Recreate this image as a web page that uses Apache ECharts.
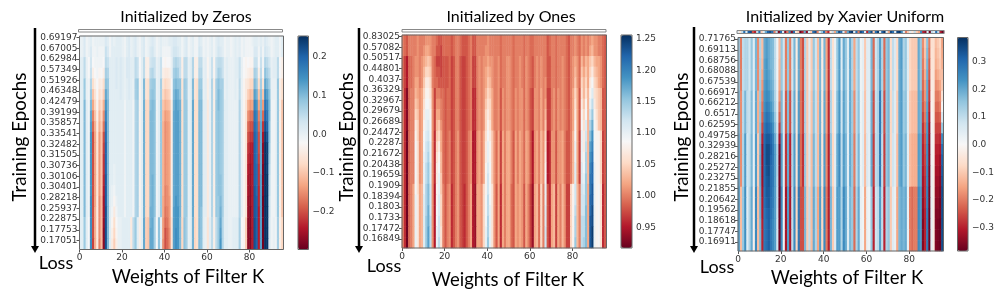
<!DOCTYPE html>
<html><head><meta charset="utf-8">
<style>html,body{margin:0;padding:0;background:#fff}#c{width:997px;height:304px}</style>
<script src="https://cdn.jsdelivr.net/npm/echarts@6/dist/echarts.min.js"></script>
</head><body><div id="c"></div>
<script>
// ---------- tick labels ----------
const zerosLoss=['0.69197','0.67005','0.62984','0.57349','0.51926','0.46348','0.42479','0.39199','0.35857','0.33541','0.32482','0.31505','0.30736','0.30106','0.30401','0.28218','0.25937','0.22875','0.17753','0.17051'];
const onesLoss=['0.83025','0.57082','0.50517','0.44801','0.4037','0.36329','0.32967','0.29679','0.26689','0.24472','0.2287','0.21672','0.20438','0.19659','0.1909','0.18394','0.1803','0.1733','0.17472','0.16849'];
const xavierLoss=['0.71765','0.69113','0.68756','0.68088','0.67539','0.66917','0.66212','0.6517','0.62595','0.49758','0.32939','0.28216','0.25272','0.23275','0.21855','0.20642','0.19562','0.18618','0.17747','0.16911'];
const weightTicks=[0,20,40,60,80];
const zerosBarTicks=[-0.2,-0.1,0,0.1,0.2];
const onesBarTicks=[0.95,1,1.05,1.1,1.15,1.2,1.25];
const xavierBarTicks=[-0.3,-0.2,-0.1,0,0.1,0.2,0.3];
// ---------- weight profiles (96 weights each), read row band by row band ----------
const z0=[0,0,.02,-.01,0,.01,-.02,0,.01,0,
-.01,.01,.02,.01,-.01,.01,-.01,0,.01,.01,
0,-.01,.01,.02,0,.01,.02,0,-.01,.01,
.02,-.01,0,.01,.02,.01,-.01,0,.01,-.01,
-.01,-.01,0,.01,.02,.02,.01,.01,-.01,.01,
.02,-.01,0,.01,-.01,-.01,.02,.01,-.01,0,
-.01,0,.01,-.01,.01,.02,.01,.01,-.01,0,
0,-.01,0,.01,0,.01,-.01,0,-.01,0,
-.01,-.01,.02,.01,-.01,.01,-.01,.01,.01,0,
-.01,0,.01,.01,-.01,.01];
const z1=[.01,.01,.05,0,-.02,.05,-.04,-.03,-.03,-.04,
-.03,-.03,.05,.04,.01,.01,.02,.02,.01,.02,
.01,0,.02,.02,.01,.01,.05,.04,-.02,.01,
.05,-.04,-.04,.05,.05,.04,0,.01,.04,-.04,
-.04,-.04,-.03,0,.05,.06,.05,.04,-.04,.05,
.05,0,.01,.06,-.04,-.04,.05,.05,0,.01,
-.03,0,.04,-.03,.04,.06,.05,.04,0,.01,
0,0,0,.01,.01,.04,0,-.02,-.03,-.05,
-.05,-.05,.05,.05,-.04,.05,-.04,.06,.05,.02,
0,.01,.01,.05,-.02,-.04];
const z2=[.01,.01,.08,0,-.01,.1,-.12,-.08,-.04,-.1,
-.07,-.12,.14,.1,.01,.01,.01,.02,.01,.02,
.01,0,.01,.02,.01,0,.07,.08,-.03,.01,
.1,-.06,-.07,.09,.09,.08,0,.01,.07,-.08,
-.11,-.1,-.09,-.02,.1,.11,.11,.09,-.06,.08,
.07,0,.01,.1,-.06,-.07,.09,.09,0,.01,
-.04,0,.06,-.04,.07,.1,.08,.07,0,.01,
0,0,0,.01,0,.05,0,-.03,-.05,-.14,
-.16,-.15,.14,.12,-.13,.1,-.13,.17,.15,.05,
0,0,0,.08,-.04,-.07];
const z3=[.01,.01,.1,.01,-.01,.14,-.2,-.13,-.06,-.14,
-.1,-.2,.2,.1,.01,.01,.01,.01,.01,.01,
.01,-.01,.01,.01,.01,-.01,.06,.07,-.03,.01,
.11,-.08,-.08,.1,.1,.09,-.01,.01,.08,-.12,
-.15,-.14,-.13,-.04,.12,.13,.13,.11,-.07,.08,
.08,0,.01,.12,-.07,-.07,.1,.1,.01,.01,
-.05,0,.06,-.04,.08,.09,.08,.07,.01,.01,
0,0,0,0,0,.06,0,-.03,-.06,-.22,
-.24,-.24,.2,.18,-.2,.12,-.27,.25,.24,.05,
-.01,-.01,0,.08,-.04,-.1];
const z4=[.01,.01,.08,.01,-.02,.15,-.2,-.12,-.05,-.15,
-.11,-.27,.22,.1,.01,-.05,-.09,-.04,0,0,
.01,.01,.01,.01,-.05,.05,.08,.01,-.04,.01,
.12,-.09,-.1,.12,.12,.07,-.02,.09,.01,-.14,
-.2,-.18,-.15,-.06,.13,.15,.14,.1,-.08,.09,
.07,0,.01,.11,-.08,-.07,.1,.09,.01,0,
-.06,.01,.05,-.04,.05,.08,.14,.06,.01,.01,
0,0,.01,.01,.01,.07,-.02,-.03,-.09,-.27,
-.28,-.24,.22,.2,-.24,.13,-.29,.25,.25,.02,
-.01,0,-.01,.07,-.04,-.08];
const zerosRows=[z0,z0,z1,z1,z2,z2,z3,z3,z3,z3,z3,z3,z3,z3,z3,z3,z3,z4,z4,z4];
// columns of the Zeros panel read down all 20 rows
const zc5=[.01,.02,.03,.04,.06,.08,.1,.12,.13,.14,.14,.14,.14,.14,.14,.15,.15,.15,.15,.15];
const zc6=[-.01,-.01,-.02,-.04,-.07,-.1,-.13,-.16,-.18,-.2,-.2,-.2,-.2,-.2,-.2,-.2,-.2,-.2,-.2,-.21];
const zc7=[0,-.01,-.01,-.02,-.04,-.06,-.08,-.1,-.12,-.13,-.13,-.13,-.13,-.13,-.13,-.13,-.12,-.12,-.12,-.12];
const zc8=[0,0,-.01,-.01,-.02,-.02,-.03,-.04,-.05,-.06,-.06,-.06,-.06,-.06,-.06,-.05,-.05,-.05,-.05,-.05];
const zc9=[0,-.01,-.01,-.03,-.05,-.07,-.09,-.11,-.12,-.14,-.14,-.14,-.14,-.14,-.14,-.15,-.15,-.15,-.15,-.16];
const zc10=[0,-.01,-.01,-.02,-.04,-.05,-.07,-.08,-.09,-.1,-.1,-.1,-.1,-.1,-.1,-.11,-.11,-.11,-.11,-.11];
const zc11=[0,-.01,-.02,-.04,-.07,-.09,-.12,-.15,-.17,-.2,-.21,-.22,-.22,-.23,-.24,-.25,-.25,-.26,-.27,-.27];
const zc12=[.02,.04,.05,.07,.09,.12,.14,.16,.18,.19,.2,.2,.2,.21,.21,.21,.22,.22,.22,.22];
const zc13=[.01,.02,.04,.06,.08,.09,.1,.1,.1,.1,.1,.1,.1,.1,.1,.1,.1,.1,.1,.1];
const zc15=[.01,.01,.01,.01,.01,.01,.01,.01,.01,.01,.01,.01,.01,.01,0,0,-.01,-.03,-.04,-.05];
const zc16=[0,.01,.01,.01,.01,.01,.01,.01,.01,.01,.01,.01,0,0,-.01,-.03,-.05,-.07,-.08,-.09];
const zc17=[.01,.01,.02,.02,.02,.01,.01,.01,.01,.01,.01,.01,.01,.01,.01,0,-.01,-.02,-.03,-.04];
const zc33=[.01,.02,.03,.05,.07,.08,.09,.1,.1,.1,.1,.1,.1,.1,.1,.1,.11,.11,.12,.12];
const zc34=[.02,.03,.04,.06,.08,.09,.1,.1,.1,.1,.1,.1,.1,.11,.11,.11,.11,.12,.12,.12];
const zc39=[0,-.01,-.02,-.04,-.06,-.08,-.1,-.11,-.12,-.12,-.12,-.12,-.12,-.12,-.12,-.13,-.13,-.14,-.14,-.15];
const zc40=[0,-.01,-.03,-.05,-.08,-.1,-.12,-.14,-.15,-.15,-.15,-.15,-.15,-.15,-.16,-.16,-.17,-.18,-.2,-.2];
const zc41=[0,-.01,-.02,-.05,-.07,-.09,-.11,-.13,-.14,-.14,-.14,-.14,-.14,-.14,-.15,-.15,-.16,-.17,-.18,-.18];
const zc42=[.01,-.01,-.02,-.04,-.06,-.08,-.1,-.12,-.13,-.13,-.13,-.13,-.13,-.13,-.13,-.14,-.14,-.14,-.15,-.15];
const zc44=[.02,.03,.05,.07,.09,.1,.11,.12,.12,.12,.12,.12,.12,.12,.12,.12,.13,.13,.13,.13];
const zc45=[.02,.03,.06,.08,.1,.12,.13,.13,.13,.13,.13,.13,.13,.13,.13,.14,.14,.14,.15,.15];
const zc46=[.01,.02,.05,.07,.09,.11,.12,.13,.13,.13,.13,.13,.13,.13,.13,.13,.14,.14,.14,.14];
const zc56=[.02,.03,.05,.06,.08,.09,.1,.1,.1,.1,.1,.1,.1,.1,.1,.1,.1,.1,.1,.1];
const zc57=[.01,.02,.05,.06,.08,.09,.1,.1,.1,.1,.1,.1,.1,.1,.1,.1,.09,.09,.09,.09];
const zc65=[.02,.03,.05,.07,.09,.1,.1,.09,.09,.09,.09,.09,.09,.09,.09,.08,.08,.08,.08,.08];
const zc66=[.01,.02,.05,.06,.07,.08,.08,.08,.08,.08,.08,.08,.08,.09,.09,.1,.11,.12,.13,.14];
const zc79=[-.01,-.01,-.02,-.04,-.06,-.09,-.12,-.15,-.18,-.2,-.22,-.23,-.24,-.25,-.25,-.26,-.26,-.27,-.27,-.27];
const zc80=[-.01,-.01,-.03,-.05,-.08,-.11,-.14,-.17,-.2,-.22,-.24,-.25,-.26,-.26,-.27,-.27,-.28,-.28,-.28,-.28];
const zc81=[0,-.01,-.03,-.05,-.08,-.1,-.13,-.17,-.2,-.22,-.24,-.24,-.24,-.24,-.24,-.24,-.24,-.24,-.24,-.24];
const zc82=[.01,.02,.04,.07,.1,.13,.16,.18,.19,.2,.2,.2,.2,.2,.21,.21,.21,.22,.22,.22];
const zc83=[.01,.02,.04,.06,.08,.11,.14,.16,.17,.18,.18,.18,.19,.19,.19,.2,.2,.2,.2,.2];
const zc84=[0,-.01,-.02,-.04,-.07,-.1,-.13,-.16,-.18,-.2,-.2,-.21,-.22,-.22,-.23,-.23,-.24,-.24,-.24,-.24];
const zc85=[.01,.02,.04,.05,.07,.09,.1,.11,.12,.12,.12,.12,.12,.13,.13,.13,.13,.13,.13,.13];
const zc86=[0,-.01,-.01,-.03,-.06,-.1,-.14,-.18,-.22,-.25,-.27,-.27,-.28,-.28,-.28,-.29,-.29,-.29,-.29,-.29];
const zc87=[.02,.03,.06,.09,.12,.15,.18,.2,.22,.24,.25,.25,.25,.25,.25,.25,.25,.25,.25,.25];
const zc88=[.01,.02,.05,.07,.1,.13,.16,.18,.2,.22,.24,.24,.24,.25,.25,.25,.25,.25,.25,.25];
const zc89=[0,.01,.03,.05,.07,.09,.1,.1,.09,.09,.08,.07,.06,.05,.05,.04,.04,.03,.03,.02];
const zerosCols={5:zc5,6:zc6,7:zc7,8:zc8,9:zc9,10:zc10,11:zc11,12:zc12,13:zc13,15:zc15,16:zc16,17:zc17,33:zc33,34:zc34,39:zc39,40:zc40,41:zc41,42:zc42,44:zc44,45:zc45,46:zc46,56:zc56,57:zc57,65:zc65,66:zc66,79:zc79,80:zc80,81:zc81,82:zc82,83:zc83,84:zc84,85:zc85,86:zc86,87:zc87,88:zc88,89:zc89};

const o0=[1,.99,.98,1,1,1,1,1.01,1,1,
1.01,1.01,1.01,1.01,1,1,.99,.98,.98,.99,
.99,.99,.99,.98,.99,1,1,.99,.98,.98,
.98,.99,1,.98,.98,1,1,1,1,1.01,
1.01,1,1,1,1,1,.99,1,1,1,
1,1,.99,1,1,1,1,.99,1,1,
.99,.99,1,1,1,1,1,1,.98,.99,
1,1,.99,1,1,1,1,.99,.98,1,
1,1.01,1,.99,1.01,1,1.01,1,1.01,1.02,
1.01,1.01,1,1,.99,.98];
const o1=[.99,.97,.95,.99,.99,1,1.01,1.01,1,1.01,
1.03,1.05,1.05,1.03,1,.99,.99,.98,.97,.98,
.98,.98,.99,.97,.98,1,1,.98,.97,.97,
.98,.99,1,.97,.97,1,1.01,1,1.01,1.02,
1.03,1.02,1.01,1,1,1.01,.99,1,1,1.01,
1.01,1,.99,1,1,1.01,1,.99,1.01,1,
.99,.98,1,1.01,1,1.01,1,1,.98,.98,
1,1,.99,1,1,1.01,1,.99,.98,1,
1.01,1.03,1.01,.99,1.04,1.02,1.04,1.02,1.05,1.07,
1.04,1.03,1.02,1.01,.99,.98];
const o2=[1,.96,.93,.99,1,1,1.04,1.03,1.01,1.02,
1.06,1.09,1.09,1.07,1.01,.97,1,1.01,1,.99,
.98,.99,.99,.97,.98,1,1,.98,.97,.97,
.98,.99,1,.96,.96,1,1.01,1,1.01,1.05,
1.07,1.05,1.02,1,1,1.01,.98,1.01,1,1.01,
1.01,1,.99,1.01,1,1.01,1.01,.99,1.01,1,
.98,.97,1.01,1.01,1,1.02,1,1.02,.97,.97,
1,1.01,.99,1.01,1,1.01,1,.99,.98,1,
1.02,1.08,1.02,.98,1.07,1.04,1.09,1.03,1.1,1.15,
1.07,1.05,1.04,1.03,.98,.98];
const o3=[1,.96,.92,.99,1,1,1.09,1.06,1.01,1.02,
1.1,1.12,1.13,1.1,1.01,.96,1.05,1.07,1.02,.99,
.98,.99,1,.97,.98,1,1.01,.98,.97,.97,
.98,1,1.01,.95,.95,1.01,1.02,1,1.02,1.07,
1.1,1.08,1.04,1.01,.99,1.02,.97,1.02,1,1.02,
1.02,1,.98,1.02,1,1.02,1.01,.99,1.02,1.01,
.98,.95,1.01,1.02,1,1.03,1.01,1.07,.95,.96,
1.01,1.01,.98,1.01,1.01,1.02,1,.98,.98,1,
1.03,1.1,1.02,.97,1.1,1.07,1.13,1.03,1.19,1.2,
1.09,1.08,1.08,1.05,.97,.98];
const o4=[1,.96,.92,.99,1,1.02,1.1,1.07,1.02,1.03,
1.11,1.15,1.18,1.13,1.01,.95,1.1,1.13,1.06,1,
.98,1,1.01,.96,.98,1,1.01,.98,.97,.96,
.98,1,1.02,.95,.94,1.02,1.02,1.01,1.05,1.1,
1.15,1.1,1.06,1.01,.98,1.02,.96,1.02,1,1.02,
1.02,.99,.98,1.02,1.01,1.02,1.01,.98,1.02,1,
.97,.94,1.02,1.03,.99,1.05,1,1.12,.98,.96,
1.02,1.03,.97,1.02,1,1.03,1.01,.97,.97,1.05,
1.08,1.15,1.03,1,1.13,1.14,1.16,1.02,1.23,1.25,
1.1,1.08,1.09,1.06,.96,.98];
const onesRows=[o0,o0,o1,o1,o1,o2,o2,o2,o2,o3,o3,o3,o3,o3,o4,o4,o4,o4,o4,o4];
const oc6=[1,1,1.01,1.01,1.02,1.03,1.04,1.05,1.07,1.08,1.09,1.09,1.09,1.09,1.09,1.1,1.1,1.1,1.1,1.1];
const oc7=[1.01,1.01,1.01,1.01,1.02,1.02,1.03,1.04,1.05,1.05,1.06,1.06,1.06,1.06,1.06,1.07,1.07,1.07,1.07,1.07];
const oc10=[1,1.01,1.02,1.03,1.04,1.05,1.06,1.07,1.08,1.09,1.09,1.1,1.1,1.1,1.1,1.11,1.11,1.11,1.11,1.11];
const oc11=[1.01,1.02,1.03,1.05,1.07,1.08,1.09,1.1,1.1,1.11,1.12,1.12,1.13,1.13,1.14,1.14,1.14,1.15,1.15,1.15];
const oc12=[1.01,1.02,1.04,1.05,1.07,1.08,1.09,1.1,1.11,1.12,1.13,1.14,1.15,1.15,1.16,1.16,1.17,1.17,1.18,1.18];
const oc13=[1.01,1.01,1.03,1.04,1.05,1.06,1.07,1.08,1.09,1.09,1.1,1.1,1.11,1.11,1.12,1.12,1.12,1.13,1.13,1.13];
const oc16=[.99,.98,.97,.98,.99,1,1.01,1.02,1.03,1.04,1.05,1.06,1.07,1.07,1.08,1.08,1.09,1.09,1.1,1.1];
const oc17=[.98,.98,.97,.98,.98,1,1.01,1.02,1.04,1.05,1.07,1.08,1.09,1.1,1.1,1.11,1.11,1.12,1.12,1.13];
const oc18=[.98,.97,.97,.97,.98,.99,1,1,1.01,1.02,1.02,1.03,1.03,1.04,1.04,1.05,1.05,1.05,1.06,1.06];
const oc39=[1,1.01,1.01,1.02,1.02,1.03,1.04,1.05,1.05,1.06,1.07,1.07,1.08,1.08,1.08,1.09,1.09,1.09,1.1,1.1];
const oc40=[1.01,1.01,1.02,1.03,1.04,1.05,1.06,1.07,1.08,1.09,1.1,1.1,1.11,1.12,1.12,1.13,1.13,1.14,1.14,1.15];
const oc41=[1,1,1.01,1.02,1.03,1.04,1.05,1.05,1.06,1.07,1.08,1.08,1.09,1.09,1.09,1.09,1.1,1.1,1.1,1.1];
const oc67=[1,1,1,1,1.01,1.01,1.02,1.03,1.04,1.05,1.06,1.07,1.08,1.09,1.1,1.1,1.11,1.11,1.12,1.12];
const oc81=[1.01,1.01,1.02,1.03,1.04,1.05,1.06,1.07,1.08,1.09,1.1,1.1,1.11,1.11,1.12,1.12,1.13,1.14,1.14,1.15];
const oc84=[1.01,1.01,1.03,1.04,1.05,1.06,1.07,1.08,1.09,1.1,1.1,1.1,1.11,1.11,1.12,1.12,1.12,1.13,1.13,1.13];
const oc85=[1,1,1.01,1.02,1.03,1.03,1.04,1.05,1.06,1.07,1.07,1.08,1.09,1.1,1.11,1.12,1.12,1.13,1.13,1.14];
const oc86=[1.01,1.01,1.03,1.04,1.05,1.06,1.08,1.09,1.11,1.12,1.13,1.14,1.14,1.15,1.15,1.15,1.16,1.16,1.16,1.16];
const oc88=[1.01,1.02,1.04,1.05,1.07,1.08,1.1,1.12,1.14,1.16,1.18,1.19,1.2,1.21,1.21,1.22,1.22,1.23,1.23,1.23];
const oc89=[1.02,1.03,1.05,1.07,1.09,1.11,1.13,1.15,1.17,1.19,1.2,1.21,1.22,1.22,1.23,1.23,1.24,1.24,1.25,1.25];
const oc90=[1.01,1.01,1.03,1.04,1.05,1.06,1.07,1.08,1.09,1.09,1.09,1.09,1.1,1.1,1.1,1.1,1.1,1.1,1.1,1.1];
const oc91=[1.01,1.01,1.02,1.03,1.04,1.05,1.05,1.06,1.07,1.08,1.08,1.08,1.08,1.08,1.08,1.08,1.08,1.08,1.08,1.08];
const onesCols={6:oc6,7:oc7,10:oc10,11:oc11,12:oc12,13:oc13,16:oc16,17:oc17,18:oc18,39:oc39,40:oc40,41:oc41,67:oc67,81:oc81,84:oc84,85:oc85,86:oc86,88:oc88,89:oc89,90:oc90,91:oc91};

const x0=[.15,-.2,.1,.12,.12,.08,.15,.05,.18,-.18,
.12,-.12,.22,.25,.22,.2,.18,.1,.02,-.15,
.15,.08,-.2,.15,-.2,.08,.18,-.03,.2,-.2,
-.25,.12,-.1,.05,-.1,.15,.08,-.12,.18,-.03,
.18,-.15,-.28,.1,-.06,.03,.15,.22,.05,.2,
.15,.05,.2,.12,-.15,.1,.15,.02,.04,-.1,
.05,.05,.18,-.22,.08,.12,.22,.12,-.22,.15,
.18,-.07,.1,.06,-.08,.2,.22,.12,.15,.05,
-.08,-.1,-.1,-.1,.2,.15,-.22,-.12,.2,-.25,
-.05,-.05,-.15,-.12,-.1,-.18];
const x1=[.18,-.18,.11,.18,.1,.09,.17,.04,.2,-.14,
.16,-.22,.26,.31,.3,.26,.23,.16,.07,-.25,
.18,.06,-.24,.17,-.25,.1,.2,-.04,.22,-.21,
-.26,.13,-.1,.06,-.11,.16,.09,-.12,.19,-.04,
.2,-.16,-.29,.12,-.07,.04,.17,.23,.08,.21,
.16,.05,.2,.14,-.18,.1,.16,.02,.05,-.11,
.05,.05,.19,-.25,.09,.12,.28,.12,-.25,.15,
.18,-.08,.09,.05,-.1,.2,.22,.14,.16,.04,
-.1,-.12,-.12,-.12,.2,.18,-.27,-.2,.23,-.3,
-.02,-.04,-.24,-.24,-.25,.12];
const x3=[.2,-.18,.12,.22,.08,.1,.18,.03,.22,-.1,
.2,-.33,.3,.33,.34,.3,.28,.22,.12,-.36,
.22,.05,-.28,.2,-.3,.12,.22,-.05,.25,-.22,
-.28,.15,-.1,.08,-.12,.18,.1,-.12,.2,-.05,
.22,-.18,-.3,.15,-.08,.05,.2,.25,.1,.22,
.18,.04,.2,.15,-.2,.1,.18,.02,.05,-.12,
.06,.04,.2,-.27,.1,.12,.28,.1,-.27,.15,
.18,-.08,.08,.05,-.12,.2,.22,.15,.18,.04,
-.12,-.14,-.14,-.14,.22,.2,-.3,-.25,.25,-.35,
.02,-.02,-.3,-.32,-.35,.35];
const x4=[.22,-.12,.15,.24,.05,.12,.2,-.02,.25,-.12,
.18,-.3,.28,.3,.32,.28,.25,.22,.08,-.38,
.25,.02,-.32,.22,-.32,.1,.25,-.08,.28,-.25,
-.25,.18,-.1,.1,-.12,.2,.12,-.15,.22,-.08,
.25,-.2,-.3,.18,-.1,.06,.22,.22,.12,.25,
.2,.05,.18,.15,-.22,.12,.2,.03,.02,-.15,
.03,.02,.15,-.3,.08,.1,.22,.1,-.3,.12,
.15,-.1,.05,.03,-.15,.18,.2,.18,.2,.03,
-.2,-.22,-.2,-.2,.25,.22,-.36,-.3,.28,-.38,
.04,-.03,-.36,-.37,-.38,.35];
const xavierRows=[x0,x0,x0,x0,x0,x1,x1,x1,x1,x3,x3,x3,x3,x3,x4,x4,x4,x4,x4,x4];
const xc10=[.12,.12,.13,.13,.14,.15,.16,.16,.17,.18,.19,.2,.2,.2,.19,.19,.19,.18,.18,.18];
const xc11=[-.12,-.12,-.13,-.15,-.17,-.19,-.21,-.23,-.26,-.3,-.33,-.33,-.33,-.33,-.32,-.31,-.31,-.3,-.3,-.3];
const xc12=[.2,.2,.21,.21,.22,.23,.24,.26,.28,.3,.3,.3,.3,.3,.29,.29,.28,.28,.28,.28];
const xc13=[.22,.22,.23,.23,.24,.25,.27,.29,.31,.33,.35,.35,.34,.33,.33,.32,.31,.3,.3,.3];
const xc14=[.2,.2,.2,.21,.22,.24,.26,.28,.3,.33,.35,.35,.35,.34,.33,.33,.32,.32,.32,.32];
const xc15=[.18,.18,.18,.19,.2,.21,.23,.25,.28,.31,.32,.31,.3,.3,.3,.29,.29,.28,.28,.28];
const xc16=[.17,.17,.17,.17,.18,.19,.2,.22,.24,.27,.28,.28,.28,.28,.27,.27,.26,.25,.25,.25];
const xc17=[.1,.1,.1,.1,.11,.12,.13,.15,.17,.2,.22,.22,.22,.22,.22,.22,.22,.22,.22,.22];
const xc18=[.02,.02,.02,.02,.03,.04,.05,.06,.08,.1,.12,.12,.12,.11,.1,.1,.09,.08,.08,.08];
const xc19=[-.12,-.12,-.13,-.14,-.15,-.17,-.2,-.23,-.27,-.32,-.36,-.37,-.37,-.37,-.38,-.38,-.38,-.38,-.38,-.38];
const xc86=[-.18,-.19,-.2,-.21,-.22,-.23,-.24,-.26,-.28,-.29,-.3,-.3,-.31,-.32,-.33,-.34,-.35,-.36,-.36,-.36];
const xc87=[-.1,-.11,-.12,-.14,-.16,-.17,-.19,-.2,-.22,-.24,-.25,-.26,-.27,-.28,-.28,-.29,-.3,-.3,-.3,-.3];
const xc88=[.16,.17,.18,.19,.2,.2,.21,.22,.23,.24,.25,.25,.26,.26,.27,.27,.28,.28,.28,.28];
const xc89=[-.2,-.21,-.23,-.24,-.26,-.27,-.29,-.31,-.33,-.34,-.35,-.35,-.36,-.36,-.37,-.37,-.38,-.38,-.38,-.38];
const xc90=[-.06,-.05,-.05,-.04,-.03,-.02,-.01,0,.01,.02,.02,.02,.03,.03,.03,.04,.04,.04,.04,.04];
const xc91=[-.06,-.06,-.05,-.05,-.04,-.04,-.04,-.03,-.03,-.02,-.02,-.02,-.03,-.03,-.03,-.03,-.03,-.03,-.03,-.03];
const xc92=[-.12,-.13,-.14,-.16,-.18,-.2,-.22,-.24,-.26,-.28,-.3,-.31,-.32,-.33,-.34,-.35,-.36,-.36,-.36,-.36];
const xc93=[-.1,-.11,-.12,-.14,-.17,-.2,-.22,-.24,-.26,-.28,-.3,-.31,-.32,-.33,-.34,-.35,-.36,-.37,-.37,-.37];
const xc94=[-.08,-.09,-.1,-.12,-.15,-.18,-.2,-.23,-.26,-.29,-.31,-.33,-.34,-.35,-.36,-.37,-.37,-.38,-.38,-.38];
const xc95=[-.16,-.15,-.14,-.12,-.1,-.05,0,.06,.15,.25,.3,.32,.33,.34,.35,.35,.35,.35,.35,.35];
const xavierCols={10:xc10,11:xc11,12:xc12,13:xc13,14:xc14,15:xc15,16:xc16,17:xc17,18:xc18,19:xc19,86:xc86,87:xc87,88:xc88,89:xc89,90:xc90,91:xc91,92:xc92,93:xc93,94:xc94,95:xc95};
const xavierInit=[.05,-.05,.1,.3,.05,.32,.35,-.25,-.3,.1,
.3,-.1,.05,.2,.32,.35,.3,-.2,.1,-.36,
.3,.05,-.35,-.2,.25,-.35,.3,-.05,-.1,-.38,
-.3,.2,-.35,.05,-.1,.3,.35,-.2,.05,.15,
.3,-.2,-.3,-.05,.1,-.15,.2,.35,.3,.05,
-.2,.2,.35,.38,.05,.3,-.2,.35,.3,.05,
-.3,.25,.35,-.1,.3,.37,.05,.32,.38,.05,
-.15,.35,.3,.05,.36,.38,.25,.05,-.2,-.1,
.05,-.05,.1,-.1,-.15,.25,-.3,-.35,.05,-.38,
.1,.05,.3,.1,-.3,-.38];

const RdBu=['#67001f','#b2182b','#d6604d','#f4a582','#fddbc7','#f7f7f7','#d1e5f0','#92c5de','#4393c3','#2166ac','#053061'];
const panels=[
 {title:'Initialized by Zeros',rows:zerosRows,colsRead:zerosCols,loss:zerosLoss,bar:zerosBarTicks,dec:1,min:-.297,max:.253,init:null,
  l:79.5,r:283.5,t:36,b:249.5,sl:78.5,sr:282.5,st:29.5,sb:32,bl:298,br:308.5,
  tx:186,ty:17,xx:188,xy:277,ex:20,ey:137,lx:56,ly:263,ax:35,at:28,ab:253},
 {title:'Initialized by Ones',rows:onesRows,colsRead:onesCols,loss:onesLoss,bar:onesBarTicks,dec:2,min:.917,max:1.256,init:null,
  l:402,r:606.5,t:35,b:248,sl:402,sr:606,st:29.5,sb:32,bl:621,br:632,
  tx:511,ty:17,xx:508,xy:280,ex:347,ey:137,lx:384,ly:266,ax:359,at:28,ab:253},
 {title:'Initialized by Xavier Uniform',rows:xavierRows,colsRead:xavierCols,loss:xavierLoss,bar:xavierBarTicks,dec:1,min:-.386,max:.389,init:xavierInit,
  l:738,r:943.5,t:37.5,b:251,sl:737,sr:944,st:30.5,sb:33.5,bl:957.5,br:968,
  tx:845,ty:17,xx:847,xy:278,ex:682,ey:137,lx:717,ly:267,ax:694,at:27,ab:253}
];
const cols=Array.from({length:96},(_,i)=>i);
const W=997,H=304,tickC='#555',textC='#333',tickFont={fontFamily:'DejaVu Sans',fontSize:9,color:textC};
const grid=[],xAxis=[],yAxis=[],series=[],visualMap=[],graphic=[];
const frame=(l,t,r,b,c)=>({type:'rect',z:50,silent:true,shape:{x:l,y:t,width:r-l,height:b-t},style:{fill:'none',stroke:c||'#666',lineWidth:1}});
const txt=(s,x,y,size,rot)=>({type:'text',z:60,silent:true,x,y,rotation:rot||0,style:{text:s,x:0,y:0,fill:'#000',fontFamily:'Lato',fontSize:size,align:'center',verticalAlign:'middle'}});
panels.forEach(p=>{
  let g=grid.length;
  grid.push({left:p.l,top:p.t,width:p.r-p.l,height:p.b-p.t});
  let xc=xAxis.length;
  xAxis.push({type:'category',gridIndex:g,data:cols,show:false});
  xAxis.push({type:'value',gridIndex:g,min:0,max:96,position:'bottom',splitLine:{show:false},axisLine:{show:false},
    axisTick:{length:3,lineStyle:{color:tickC},customValues:weightTicks},
    axisLabel:{...tickFont,margin:4,customValues:weightTicks}});
  let yc=yAxis.length;
  const rowIdx=p.loss.map((_,i)=>i);
  yAxis.push({type:'category',gridIndex:g,inverse:true,data:rowIdx,show:false});
  yAxis.push({type:'value',gridIndex:g,inverse:true,min:-.15,max:19.85,position:'left',splitLine:{show:false},axisLine:{show:false},
    axisTick:{length:3,lineStyle:{color:tickC},customValues:rowIdx},
    axisLabel:{...tickFont,margin:2,customValues:rowIdx,formatter:v=>p.loss[v]||''}});
  const data=[];
  p.rows.forEach((row,r)=>row.forEach((v,c)=>{const t=p.colsRead[c];data.push([c,r,t?t[r]:v]);}));
  series.push({type:'heatmap',name:p.title,xAxisIndex:xc,yAxisIndex:yc,data,progressive:0,silent:true,itemStyle:{borderWidth:0}});
  const sIdx=[series.length-1];
  g=grid.length;
  grid.push({left:p.sl,top:p.st,width:p.sr-p.sl,height:p.sb-p.st});
  xc=xAxis.length;
  xAxis.push({type:'category',gridIndex:g,data:cols,show:false});
  xAxis.push({type:'value',gridIndex:g,min:0,max:96,position:'bottom',splitLine:{show:false},axisLine:{show:false},
    axisTick:{length:2,lineStyle:{color:tickC},customValues:weightTicks},axisLabel:{show:false}});
  yc=yAxis.length;
  yAxis.push({type:'category',gridIndex:g,data:[0],show:false});
  if(p.init){
    series.push({type:'heatmap',name:p.title+' init',xAxisIndex:xc,yAxisIndex:yc,data:p.init.map((v,c)=>[c,0,v]),progressive:0,silent:true});
    sIdx.push(series.length-1);
  }
  g=grid.length;
  grid.push({left:p.bl,top:p.t,width:p.br-p.bl,height:p.b-p.t});
  xAxis.push({type:'value',gridIndex:g,show:false,min:0,max:1});
  yAxis.push({type:'value',gridIndex:g,min:p.min,max:p.max,position:'right',splitLine:{show:false},axisLine:{show:false},
    axisTick:{length:3,lineStyle:{color:tickC},customValues:p.bar},
    axisLabel:{...tickFont,margin:4,customValues:p.bar,formatter:v=>v.toFixed(p.dec).replace('-','\u2212')}});
  visualMap.push({type:'continuous',seriesIndex:sIdx,min:p.min,max:p.max,calculable:false,show:true,realtime:false,
    left:p.bl,top:p.t,padding:0,itemWidth:p.br-p.bl,itemHeight:p.b-p.t,text:['',''],showLabel:false,hoverLink:false,
    textStyle:{fontSize:0},inRange:{color:RdBu}});
  graphic.push(frame(p.l,p.t,p.r,p.b));
  graphic.push(frame(p.sl,p.st,p.sr,p.sb,'#888'));
  graphic.push(frame(p.bl,p.t,p.br,p.b));
  graphic.push(txt(p.title,p.tx,p.ty,16));
  graphic.push(txt('Weights of Filter K',p.xx,p.xy,18.5));
  graphic.push(txt('Training Epochs',p.ex,p.ey,18.8,Math.PI/2));
  graphic.push(txt('Loss',p.lx,p.ly,18));
  graphic.push({type:'line',z:60,silent:true,shape:{x1:p.ax,y1:p.at,x2:p.ax,y2:p.ab-6},style:{stroke:'#000',lineWidth:2.5}});
  graphic.push({type:'polygon',z:60,silent:true,shape:{points:[[p.ax-4,p.ab-7],[p.ax+4,p.ab-7],[p.ax,p.ab]]},style:{fill:'#000'}});
});
const chart=echarts.init(document.getElementById('c'),null,{renderer:'canvas',width:W,height:H});
chart.setOption({animation:false,backgroundColor:'#fff',grid,xAxis,yAxis,series,visualMap,graphic:{elements:graphic},tooltip:{show:false}});
</script></body></html>
